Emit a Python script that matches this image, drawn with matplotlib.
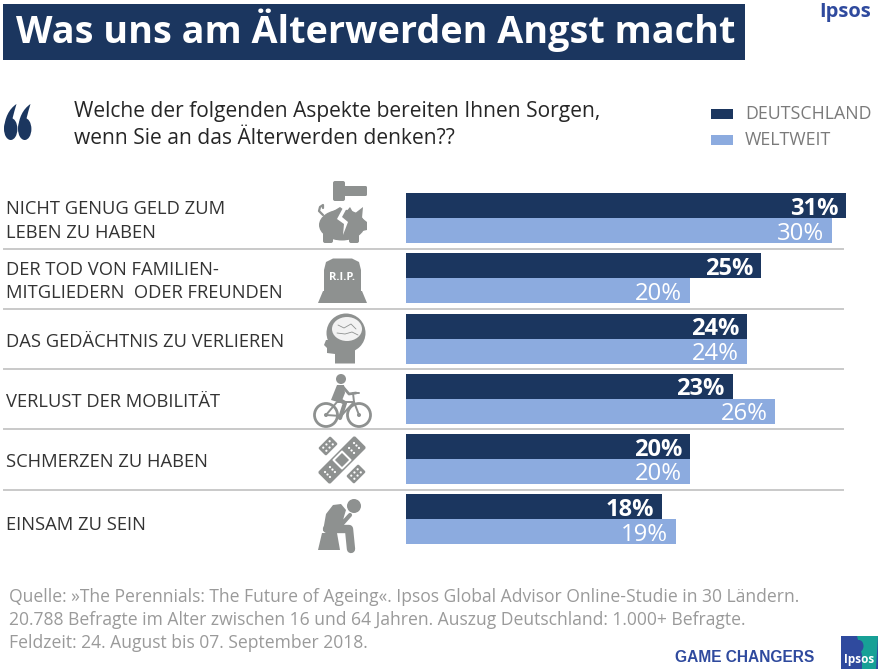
import numpy as np
import matplotlib
matplotlib.use("Agg")
from matplotlib import pyplot as plt
from matplotlib.patches import Rectangle, Circle, Ellipse, Polygon, FancyBboxPatch, PathPatch
from matplotlib.path import Path
from matplotlib.transforms import Affine2D

plt.rcParams['font.family'] = ['Open Sans', 'DejaVu Sans']

W, H = 889, 672

categories = ["NICHT GENUG GELD ZUM\nLEBEN ZU HABEN",
              "DER TOD VON FAMILIEN-\nMITGLIEDERN  ODER FREUNDEN",
              "DAS GEDÄCHTNIS ZU VERLIEREN",
              "VERLUST DER MOBILITÄT",
              "SCHMERZEN ZU HABEN",
              "EINSAM ZU SEIN"]
deutschland = [31, 25, 24, 23, 20, 18]
weltweit = [30, 20, 24, 26, 20, 19]
series_names = ["DEUTSCHLAND", "WELTWEIT"]

title = "Was uns am Älterwerden Angst macht"
question = "Welche der folgenden Aspekte bereiten Ihnen Sorgen,\nwenn Sie an das Älterwerden denken??"
source_lines = ["Quelle: »The Perennials: The Future of Ageing«. Ipsos Global Advisor Online-Studie in 30 Ländern.",
                "20.788 Befragte im Alter zwischen 16 und 64 Jahren. Auszug Deutschland: 1.000+ Befragte.",
                "Feldzeit: 24. August bis 07. September 2018."]

NAVY = "#1b365f"
LIGHT = "#8cabdf"
ICON = "#8e9190"
RULE = "#c9c9c9"

fig = plt.figure(figsize=(W / 100, H / 100), dpi=100, facecolor="white")

# overlay in pixel coordinates, for the page furniture and the icons
page = fig.add_axes([0, 0, 1, 1])
page.set_xlim(0, W)
page.set_ylim(H, 0)
page.axis("off")


def rounded(ax, x0, y0, x1, y1, r, color, zorder=3):
    ax.add_patch(FancyBboxPatch((x0 + r, y0 + r), x1 - x0 - 2 * r, y1 - y0 - 2 * r,
                                boxstyle="round,pad=%f" % r, fc=color, ec="none", zorder=zorder))


def limb(ax, pts, lw, color=ICON, zorder=3):
    pts = np.array(pts)
    ax.plot(pts[:, 0], pts[:, 1], color=color, lw=lw, solid_capstyle="round",
            solid_joinstyle="round", zorder=zorder)


def rotated_box(ax, cx, cy, w, h, angle, color, zorder=3, r=1.5):
    p = FancyBboxPatch((cx - w / 2 + r, cy - h / 2 + r), w - 2 * r, h - 2 * r,
                       boxstyle="round,pad=%f" % r, fc=color, ec="none", zorder=zorder)
    p.set_transform(Affine2D().rotate_deg_around(cx, cy, angle) + ax.transData)
    ax.add_patch(p)


def draw_quote(ax, x, y):
    ax.add_patch(Ellipse((x + 6.7, y + 25), 13.4, 22, fc=NAVY, ec="none", zorder=3))
    verts = [(x + 12.5, y), (x + 5, y + 5), (x + 0.5, y + 14), (x + 0.2, y + 25),
             (x + 6, y + 25), (x + 8, y + 15), (x + 12.5, y)]
    codes = [Path.MOVETO, Path.CURVE4, Path.CURVE4, Path.CURVE4, Path.LINETO,
             Path.CURVE3, Path.CURVE3]
    ax.add_patch(PathPatch(Path(verts, codes), fc=NAVY, ec="none", zorder=3))


def draw_pig(ax):
    rounded(ax, 333, 181, 345, 201, 2, ICON)
    rounded(ax, 344, 186, 367, 196, 1.5, ICON)
    ax.add_patch(Ellipse((342, 225), 46, 31, fc=ICON, ec="none", zorder=3))
    for lx in [326, 352]:
        rounded(ax, lx - 3, 232, lx + 7, 243, 2, ICON)
    ax.add_patch(Polygon([(345, 213), (350, 207), (354, 214), (363, 207), (362, 218),
                          (367, 222), (367, 230), (358, 232)], fc=ICON, ec="none", zorder=3))
    ax.add_patch(Polygon([(325, 216), (340, 207), (347, 212), (335, 222)], fc=ICON, ec="none", zorder=3))
    ax.add_patch(Polygon([(344, 206), (348, 206), (342, 217), (348, 222), (343, 235),
                          (344, 224), (337, 219)], fc="white", ec="none", zorder=4))
    limb(ax, [(323, 215), (319, 211), (320, 207), (323, 205), (323, 208)], 1.6)


def draw_grave(ax):
    ax.add_patch(Polygon([(318, 303), (367, 303), (362, 291), (323, 291)], fc=ICON, ec="none", zorder=3))
    ax.add_patch(Polygon([(324, 292), (361, 292), (361, 270), (359, 262), (352, 258.5),
                          (333, 258.5), (326, 262), (324, 270)], fc=ICON, ec="none", zorder=3))
    ax.text(342.5, 277, "R.I.P.", color="white", fontsize=8, fontweight="bold",
            ha="center", va="center", zorder=4)


def draw_head(ax):
    ax.add_patch(Ellipse((346, 333), 39, 39, fc=ICON, ec="none", zorder=3))
    ax.add_patch(Polygon([(335, 363.5), (355, 363.5), (355, 348), (331, 340), (326, 340),
                          (324, 345), (327, 348), (327, 353), (335, 354)], fc=ICON, ec="none", zorder=3))
    ax.add_patch(Ellipse((347, 329), 30, 24, fc="#f2f2f2", ec="none", zorder=4))
    limb(ax, [(338, 325), (344, 328), (351, 324), (356, 329)], 0.6, color=ICON, zorder=5)
    limb(ax, [(337, 333), (345, 334), (352, 332), (358, 335)], 0.6, color=ICON, zorder=5)


def draw_bike(ax):
    for cx in [326, 359]:
        ax.add_patch(Circle((cx, 415), 11.5, fc="none", ec=ICON, lw=2, zorder=3))
        ax.add_patch(Circle((cx, 415), 2, fc=ICON, ec="none", zorder=3))
    limb(ax, [(326, 415), (337, 402), (354, 402), (359, 415)], 1.4)
    limb(ax, [(326, 415), (341, 416), (354, 402)], 1.4)
    limb(ax, [(354, 402), (353, 393), (359, 393)], 1.4)
    ax.add_patch(Circle((341, 379), 5, fc=ICON, ec="none", zorder=3))
    ax.add_patch(Polygon([(337, 385), (344, 385), (345, 393), (341, 403), (331, 400)], fc=ICON, ec="none", zorder=3))
    limb(ax, [(343, 387), (349, 394), (356, 393)], 2)
    limb(ax, [(336, 398), (345, 403), (340, 418)], 3)


def draw_plaster(ax):
    cx, cy = 342, 460
    # long strip running up to the right, two short ends on the other diagonal
    rotated_box(ax, cx, cy, 52, 17, -45, ICON, r=2)
    rotated_box(ax, cx, cy, 14, 14, 45, "white", zorder=4, r=1)
    rotated_box(ax, cx, cy, 10, 10, 45, ICON, zorder=5, r=0.5)
    for sign in [-1, 1]:
        px, py = cx + sign * 14, cy + sign * 14
        rotated_box(ax, px, py, 17, 11, -45, ICON, r=1.5)
        for along in [-4.5, 0, 4.5]:
            for across in [-2.2, 2.2]:
                ax.add_patch(Circle((px + (along + across) * 0.707, py + (across - along) * 0.707), 1.1,
                                    fc="white", ec="none", zorder=4))
    for sign in [-1, 1]:
        mid = sign * 17
        for along in [-3.5, 3.5]:
            for across in [-3.5, 0, 3.5]:
                ax.add_patch(Circle((cx + (mid + along + across) * 0.707, cy + (across - mid - along) * 0.707), 1.1,
                                    fc="white", ec="none", zorder=4))


def draw_person(ax):
    ax.add_patch(Polygon([(318, 550), (322, 533), (337, 533), (340, 550)], fc=ICON, ec="none", zorder=3))
    ax.add_patch(Circle((354, 506), 7, fc=ICON, ec="none", zorder=3))
    ax.add_patch(Polygon([(323, 531), (326, 514), (333, 505), (341, 504), (346, 510),
                          (343, 520), (341, 531)], fc=ICON, ec="none", zorder=3))
    limb(ax, [(340, 512), (342, 524), (350, 515)], 3)
    limb(ax, [(327, 529), (349, 529), (351, 549)], 6)


# title block
page.add_patch(Rectangle((3, 4), 742, 56, fc=NAVY, ec="none"))
page.text(16, 30, title, color="white", fontsize=27.2, fontweight="bold", ha="left", va="center")
page.text(871, 12, "Ipsos", color="#2f4a9e", fontsize=14.5, fontweight="bold", ha="right", va="center")

# question and legend
draw_quote(page, 4, 104)
draw_quote(page, 18, 104)
page.text(74, 125, question, color="#262626", fontsize=15.1, ha="left", va="center", linespacing=1.42)
for name, color, y in zip(series_names, [NAVY, LIGHT], [114, 140]):
    page.add_patch(Rectangle((711, y - 5), 22, 10, fc=color, ec="none"))
    page.text(745, y, name, color="#7a7a7a", fontsize=12.8, ha="left", va="center")

# row labels and separators
row_y = 218.2 + 60.2 * np.arange(len(categories))
label_y = row_y + 3
label_y[-1] += 3  # the last label sits a little lower in the original
for label, y in zip(categories, label_y):
    page.text(6, y, label, color="#333333", fontsize=13.2, ha="left", va="center", linespacing=1.4)
for y in (row_y[:-1] + row_y[1:]) / 2 + 0.5:
    page.plot([4, 843], [y, y], color=RULE, lw=1.4, zorder=1)

draw_pig(page)
draw_grave(page)
draw_head(page)
draw_bike(page)
draw_plaster(page)
draw_person(page)

# bars, one axes unit is one percentage point
x0, px_per_pct = 406, 14.2
top, bottom = 188, 550
chart = fig.add_axes([x0 / W, 1 - bottom / H, 34 * px_per_pct / W, (bottom - top) / H])
chart.patch.set_alpha(0)
chart.set_xlim(0, 34)
chart.set_ylim((bottom - row_y[0]) / 60.2, (top - row_y[0]) / 60.2)
chart.axis("off")

pos = np.arange(len(categories))
bar_h = 25 / 60.2
chart.barh(pos - bar_h / 2, deutschland, height=bar_h, color=NAVY)
chart.barh(pos + bar_h / 2, weltweit, height=bar_h, color=LIGHT)
for i, (d, w) in enumerate(zip(deutschland, weltweit)):
    chart.text(d - 0.55, i - bar_h / 2, "%d%%" % d, color="white", fontsize=17, fontweight="bold",
               ha="right", va="center_baseline")
    chart.text(w - 0.55, i + bar_h / 2, "%d%%" % w, color="white", fontsize=17.2,
               ha="right", va="center_baseline")

# source and footer, one text per line
for line, y in zip(source_lines, [597, 620, 643]):
    page.text(9, y, line, color="#9a9a9a", fontsize=12.65, ha="left", va="center")
page.text(675, 658, "GAME CHANGERS", color="#2f4a9e", fontsize=11.2, fontweight="bold",
          family="Liberation Sans", ha="left", va="center")
page.add_patch(Rectangle((841, 636), 37, 33, fc="#2f4a9e", ec="none"))
page.add_patch(Polygon([(857, 636), (878, 636), (876, 669), (862, 669), (862, 655)], fc="#17a096", ec="none"))
page.add_patch(Ellipse((859, 646), 9, 12, fc="#2f4a9e", ec="none"))
page.text(859.5, 660, "Ipsos", color="white", fontsize=8.5, fontweight="bold", ha="center", va="center")

fig.savefig("out.png", dpi=100, facecolor="white")
